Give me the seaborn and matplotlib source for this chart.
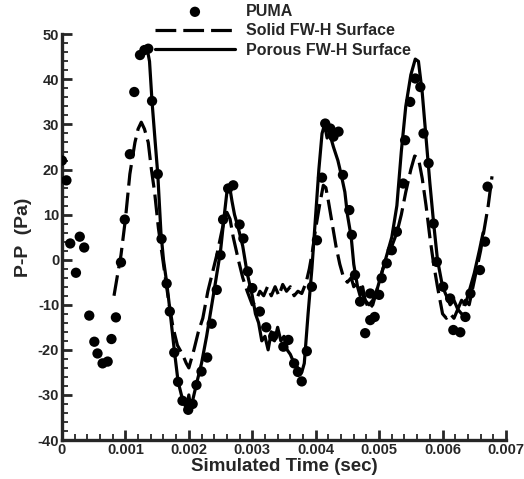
import matplotlib
matplotlib.use('Agg')
import matplotlib.pyplot as plt
import seaborn as sns
import pandas as pd
from matplotlib.ticker import MultipleLocator, FuncFormatter

# PUMA puntos (tiempo en s, presion en Pa)
puma_t = [0.0, 0.00007, 0.00013, 0.00022, 0.00028, 0.00035, 0.00043, 0.00051,
          0.00056, 0.00064, 0.00072, 0.00078, 0.00085, 0.00093, 0.00099, 0.00107,
          0.00114, 0.00123, 0.0013, 0.00136, 0.00142, 0.00151, 0.00157, 0.00165,
          0.0017, 0.00177, 0.00183, 0.0019, 0.00199, 0.00206, 0.00212, 0.0022,
          0.00229, 0.00236, 0.00244, 0.0025, 0.00254, 0.00262, 0.0027, 0.0028,
          0.00286, 0.00293, 0.003, 0.00312, 0.00322, 0.00333, 0.00349, 0.00357,
          0.00366, 0.00372, 0.00378, 0.00386, 0.00394, 0.00402, 0.0041, 0.00415,
          0.00423, 0.00428, 0.00436, 0.00443, 0.00453, 0.00457, 0.00462, 0.0047,
          0.00478, 0.00486, 0.00486, 0.00493, 0.005, 0.00504, 0.00512, 0.0052,
          0.00528, 0.00538, 0.00541, 0.00549, 0.00557, 0.00565, 0.0057, 0.00578,
          0.00586, 0.00591, 0.00601, 0.00612, 0.00617, 0.00628, 0.00636, 0.00644,
          0.00659, 0.00667, 0.00671]
puma_p = [22.0, 17.6, 3.6, -2.9, 5.1, 2.7, -12.4, -18.2,
          -20.8, -23.0, -22.6, -17.6, -12.8, -0.6, 8.9, 23.4,
          37.2, 45.4, 46.5, 46.8, 35.2, 19.0, 4.6, -5.3,
          -11.5, -20.6, -27.1, -31.3, -33.3, -32.0, -27.8, -24.8,
          -21.7, -14.2, -6.7, 1.0, 8.9, 15.8, 16.5, 7.8,
          4.7, -2.6, -6.3, -11.5, -15.0, -17.0, -19.3, -17.8,
          -23.0, -24.9, -27.0, -20.3, -6.0, 4.3, 18.2, 30.2,
          29.1, 27.3, 28.4, 18.8, 11.0, 5.5, -3.4, -9.3,
          -16.3, -13.4, -7.5, -12.7, -7.8, -4.1, -0.8, 2.1,
          6.2, 16.9, 26.5, 35.0, 40.2, 38.3, 28.0, 21.4,
          8.0, -0.5, -6.0, -8.6, -15.6, -16.1, -12.7, -7.5,
          -2.3, 4.0, 16.2]

# Superficie FW-H solida
solid_t = [0.00082, 0.00088, 0.00093, 0.001, 0.00107, 0.00115, 0.0012, 0.00125,
           0.0013, 0.00136, 0.00141, 0.00146, 0.00152, 0.00157, 0.00162, 0.00168,
           0.00175, 0.00182, 0.0019, 0.00196, 0.002, 0.00204, 0.00208, 0.00215,
           0.00222, 0.0023, 0.00237, 0.00244, 0.0025, 0.00256, 0.0026, 0.00265,
           0.0027, 0.00278, 0.00285, 0.00292, 0.003, 0.00306, 0.00312, 0.00318,
           0.00324, 0.0033, 0.00336, 0.00342, 0.00348, 0.00354, 0.0036, 0.00366,
           0.00372, 0.00378, 0.00385, 0.0039, 0.00395, 0.004, 0.00406, 0.00412,
           0.00416, 0.0042, 0.00426, 0.00432, 0.00438, 0.00444, 0.0045, 0.00456,
           0.0046, 0.00466, 0.00472, 0.00478, 0.00484, 0.0049, 0.00496, 0.005,
           0.00506, 0.00512, 0.0052, 0.00528, 0.00535, 0.00542, 0.0055, 0.00556,
           0.00562, 0.00568, 0.00574, 0.0058, 0.00586, 0.00592, 0.006, 0.00606,
           0.00612, 0.00618, 0.00624, 0.0063, 0.00636, 0.00642, 0.00648, 0.00654,
           0.0066, 0.00666, 0.00672, 0.00678]
solid_p = [-8, -3, 1, 9, 19, 26, 29, 30.5,
           29, 26, 20, 15, 7, 2, -3, -9,
           -15, -19, -21, -23, -24, -22, -20, -16,
           -13, -7, -3, 1, 5, 9, 10.5, 9,
           5, 0, -4, -7, -10, -9, -7, -8,
           -6, -8, -6, -8, -5.5, -7, -6, -8,
           -7, -7.5, -5, -2, 2, 7, 12, 16.5,
           16, 13, 8, 3, -1, -4, -5, -4,
           -6, -5, -7, -9, -11, -10, -7, -5,
           -2, 0, 3, 6, 10, 15, 20, 23,
           22.5, 18, 12, 5, -1, -6, -12, -13,
           -12, -13, -11, -12, -9, -10, -6, -2,
           2, 7, 12, 18.5]

# Superficie FW-H porosa
porous_t = [0.00134, 0.00138, 0.00142, 0.00147, 0.00151, 0.00156, 0.0016, 0.00165,
            0.0017, 0.00177, 0.00183, 0.0019, 0.00196, 0.002, 0.00203, 0.00208,
            0.00213, 0.0022, 0.00228, 0.00235, 0.00242, 0.0025, 0.00256, 0.0026,
            0.00264, 0.00268, 0.00272, 0.00278, 0.00285, 0.00292, 0.003, 0.00305,
            0.0031, 0.00315, 0.0032, 0.00325, 0.0033, 0.00335, 0.0034, 0.00345,
            0.0035, 0.00355, 0.0036, 0.00366, 0.00372, 0.00378, 0.00382, 0.00388,
            0.00394, 0.004, 0.00405, 0.0041, 0.00414, 0.00418, 0.00422, 0.00428,
            0.00435, 0.0044, 0.00446, 0.0045, 0.00456, 0.0046, 0.00466, 0.0047,
            0.00474, 0.00478, 0.00484, 0.0049, 0.00496, 0.005, 0.00506, 0.00512,
            0.0052, 0.00528, 0.00535, 0.00542, 0.0055, 0.00557, 0.00562, 0.00568,
            0.00574, 0.0058, 0.00586, 0.00592, 0.006, 0.00606, 0.00612, 0.00618,
            0.00624, 0.0063, 0.00636, 0.00642, 0.0065, 0.00658, 0.00664]
porous_p = [47, 44, 35, 26, 19, 6, 0, -5,
            -11, -20, -27, -31, -33, -30, -33, -30,
            -27, -23, -17, -11, -5, 2, 10, 15,
            16.5, 13, 10, 7, 3, -3, -8, -12,
            -14, -18, -17, -20, -16, -18, -15, -18,
            -17, -20, -21, -23, -24, -25, -23, -12,
            -2, 10, 20, 28, 30, 27, 28, 25,
            22, 19, 15, 10, 5, -1, -6, -8,
            -6, -9, -10, -9, -7, -5, -2, 1,
            5, 12, 24, 34, 41, 44.5, 44, 37,
            27, 17, 8, 0, -6, -8, -10, -9,
            -11, -9, -10, -7, -3, 2, 6]

sns.set_style('ticks')
plt.rcParams['font.family'] = ['Liberation Sans', 'DejaVu Sans']
plt.rcParams['font.weight'] = 'bold'

fig = plt.figure(figsize=(5.24, 4.79), dpi=100)
ax = fig.add_axes([0.1183, 0.0814, 0.8473, 0.847])

sns.scatterplot(x=puma_t, y=puma_p, ax=ax, color='black', s=55,
                edgecolor='none', label='PUMA', zorder=3)
sns.lineplot(x=solid_t, y=solid_p, ax=ax, color='black', linewidth=2.3,
             sort=False, estimator=None, label='Solid FW-H Surface')
ax.lines[-1].set_dashes((6.5, 2.2))
sns.lineplot(x=porous_t, y=porous_p, ax=ax, color='black', linewidth=2.3,
             sort=False, estimator=None, label='Porous FW-H Surface')

ax.set_xlim(0, 0.007)
ax.set_ylim(-40, 50)
ax.xaxis.set_major_locator(MultipleLocator(0.001))
ax.xaxis.set_minor_locator(MultipleLocator(0.0002))
ax.yaxis.set_major_locator(MultipleLocator(10))
ax.yaxis.set_minor_locator(MultipleLocator(2))
ax.xaxis.set_major_formatter(FuncFormatter(lambda v, p: '0' if abs(v) < 1e-12 else f'{v:.3f}'))
ax.yaxis.set_major_formatter(FuncFormatter(lambda v, p: f'{v:.0f}'))

sns.despine(ax=ax)
for side in ['left', 'bottom']:
    ax.spines[side].set_linewidth(2.4)
ax.tick_params(which='major', direction='in', length=7, width=2, labelsize=10.5, pad=2)
ax.tick_params(which='minor', direction='in', length=4, width=1.3)
for lab in ax.get_xticklabels() + ax.get_yticklabels():
    lab.set_fontweight('bold')

ax.set_xlabel('Simulated Time (sec)', fontsize=13.5, fontweight='bold', labelpad=1)
ax.set_ylabel('P-P  (Pa)', fontsize=14, fontweight='bold', labelpad=4)

ax.legend(loc='upper left', bbox_to_anchor=(155 / 524, 1 - 4 / 479),
          bbox_transform=fig.transFigure, frameon=False, fontsize=11.5,
          handlelength=5.0, handletextpad=0.7, labelspacing=0.28,
          borderaxespad=0, borderpad=0, markerscale=1.0)

fig.savefig('out.png', dpi=100)
